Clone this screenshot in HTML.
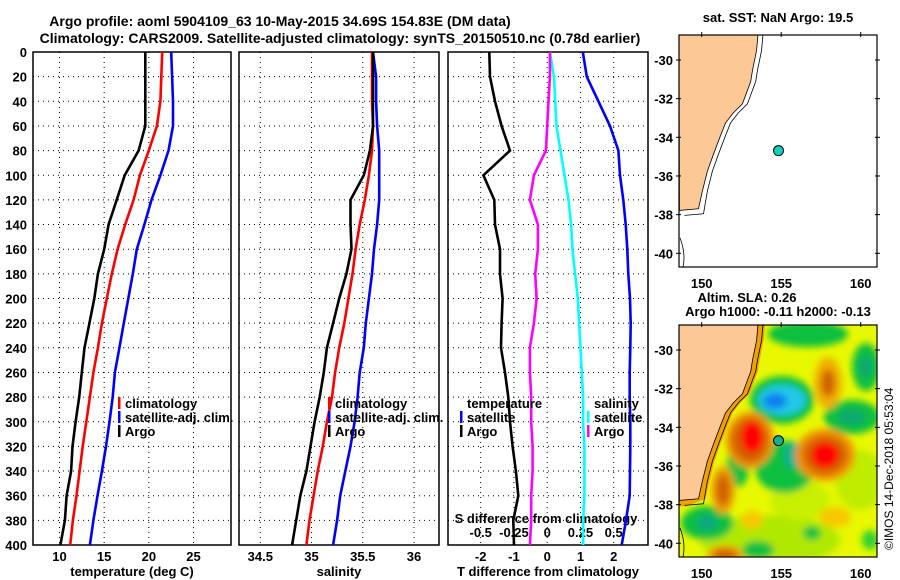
<!DOCTYPE html>
<html><head><meta charset="utf-8"><style>
body{margin:0;background:#fff}
svg{display:block;font-family:"Liberation Sans",sans-serif;font-weight:bold}
</style></head><body>
<svg id="fig" width="900" height="580" viewBox="0 0 900 580" xmlns="http://www.w3.org/2000/svg">
<text x="280" y="26" font-size="14" text-anchor="middle">Argo profile: aoml 5904109_63 10-May-2015 34.69S 154.83E (DM data)</text>
<text x="340" y="43" font-size="14" text-anchor="middle">Climatology: CARS2009. Satellite-adjusted climatology: synTS_20150510.nc (0.78d earlier)</text>
<g id="p1"></g>
<g id="p2"></g>
<g id="p3"></g>
<g id="m1"></g>
<g id="m2"></g>
<text x="778" y="22" font-size="13" text-anchor="middle">sat. SST: NaN Argo: 19.5</text>
<text x="747" y="302" font-size="13" text-anchor="middle">Altim. SLA: 0.26</text>
<text x="778" y="316" font-size="13" text-anchor="middle">Argo h1000: -0.11 h2000: -0.13</text>
<text transform="translate(893,550) rotate(-90)" font-size="12" font-weight="normal">©IMOS 14-Dec-2018 05:53:04</text>
</svg>
<script>
const depths=[0,20,40,60,80,100,120,140,160,180,200,220,240,260,280,300,320,340,360,380,400];
const depthTicks=[0,20,40,60,80,100,120,140,160,180,200,220,240,260,280,300,320,340,360,380,400];
const tempArgo=[19.6,19.6,19.6,19.6,18.85,17.3,16.4,15.5,15.0,14.3,13.9,13.35,12.8,12.5,12.2,11.8,11.45,11.3,10.8,10.6,10.1];
const tempClim=[21.5,21.4,21.3,20.9,20.0,19.0,18.3,17.35,16.5,15.85,15.3,14.75,14.3,13.8,13.4,13.0,12.6,12.25,11.9,11.5,11.2];
const tempSat=[22.5,22.6,22.7,22.7,22.2,21.3,20.3,19.5,18.65,18.2,17.7,17.2,16.7,16.2,15.95,15.6,15.2,14.75,14.25,13.8,13.4];
const salArgo=[35.6,35.6,35.6,35.6,35.57,35.51,35.38,35.38,35.39,35.34,35.27,35.21,35.15,35.12,35.08,35.03,34.99,34.95,34.89,34.85,34.81];
const salClim=[35.59,35.59,35.59,35.6,35.59,35.56,35.52,35.47,35.43,35.40,35.36,35.32,35.27,35.23,35.2,35.15,35.11,35.06,35.02,34.98,34.95];
const salSat=[35.6,35.63,35.63,35.64,35.66,35.66,35.66,35.64,35.61,35.59,35.56,35.53,35.51,35.47,35.45,35.42,35.38,35.33,35.28,35.25,35.21];
const tDiffArgo=[-1.74,-1.72,-1.57,-1.37,-1.12,-1.92,-1.59,-1.57,-1.42,-1.42,-1.34,-1.37,-1.39,-1.27,-1.17,-1.12,-1.04,-0.94,-0.87,-1.02,-1.0];
const tDiffSat=[1.07,1.19,1.54,1.89,2.14,2.19,2.29,2.36,2.41,2.44,2.49,2.51,2.5,2.48,2.48,2.5,2.5,2.49,2.48,2.37,2.24];
const sDiffArgo=[0.02,0.02,0.01,0.0,-0.01,-0.1,-0.13,-0.07,-0.07,-0.09,-0.08,-0.1,-0.13,-0.13,-0.12,-0.12,-0.11,-0.11,-0.12,-0.12,-0.13];
const sDiffSat=[0.02,0.05,0.06,0.07,0.1,0.13,0.16,0.18,0.19,0.21,0.23,0.24,0.25,0.26,0.27,0.27,0.28,0.28,0.28,0.27,0.27];
const tempTicks=[10,15,20,25];
const salTicks=[34.5,35,35.5,36];
const tDiffTicks=[-2,-1,0,1,2];
const sDiffTicks=[-0.5,-0.25,0,0.25,0.5];
const lonTicks=[150,155,160];
const latTicks=[-30,-32,-34,-36,-38,-40];
const argoLon=154.83, argoLat=-34.69;
const coastLon=[153.55,153.45,153.2,153.08,152.56,152.0,151.5,151.2,150.75,150.36,150.04,149.8,148.6];
const coastLat=[-28.6,-29.5,-30.5,-31.11,-32.27,-32.72,-33.25,-33.87,-34.85,-35.75,-36.8,-37.7,-37.78];

const NS='http://www.w3.org/2000/svg';
function mk(parent,tag,attrs,txt){const e=document.createElementNS(NS,tag);for(const k in attrs)e.setAttribute(k,attrs[k]);if(txt!==undefined)e.textContent=txt;parent.appendChild(e);return e;}
const Y0=52,Y1=545;
const yD=d=>Y0+(d/400)*(Y1-Y0);
function lin(d0,d1,r0,r1){return v=>r0+(v-d0)/(d1-d0)*(r1-r0);}

function panel(g,x0,x1,xs,ticks,fmt,label,leftLabels){
  for(const t of ticks){const x=xs(t);
    const l=mk(g,'line',{x1:x,x2:x,y1:Y0,y2:Y1,stroke:'#000','stroke-width':1,'stroke-dasharray':'1,4'});
    
    
    const tx=mk(g,'text',{x:x,y:Y1+16,'font-size':13,'text-anchor':'middle'},fmt(t));
    
    }
  for(const d of depthTicks){const y=yD(d);
    if(d>0&&d<400){const l=mk(g,'line',{x1:x0,x2:x1,y1:y,y2:y,stroke:'#000','stroke-width':1,'stroke-dasharray':'1,4'});
      
      }
    if(leftLabels){const tx=mk(g,'text',{x:27,y:y+5,'font-size':13,'text-anchor':'end'},String(d));
      
      }}
  const r=mk(g,'rect',{x:x0,y:Y0,width:x1-x0,height:Y1-Y0,fill:'none',stroke:'#000','stroke-width':1.5});
  
  
  if(label){const tx=mk(g,'text',{x:(x0+x1)/2,y:576,'font-size':13,'text-anchor':'middle'},label);
    
    }
}
function series(g,vals,xs,color,name,w){
  const pts=vals.map((v,i)=>xs(v).toFixed(1)+','+yD(depths[i]).toFixed(1)).join(' ');
  const p=mk(g,'polyline',{points:pts,fill:'none',stroke:color,'stroke-width':w||2.6});
  
  
}
function legend(g,x,y,items,header){
  let yy=y;
  if(header){const t=mk(g,'text',{x:x+7,y:yy,'font-size':13},header);
    
    yy+=14;}
  for(const [c,lab] of items){
    const r=mk(g,'rect',{x:x,y:yy-11,width:2.5,height:12,fill:c});
    
    
    const t=mk(g,'text',{x:x+7,y:yy,'font-size':13},lab);
    
    
    yy+=14;}
}
// Panel 1
const p1=document.getElementById('p1');
const xT=lin(10,25,59.5,193.5);
panel(p1,33,231,xT,tempTicks,String,'temperature (deg C)',true);
series(p1,tempClim,xT,'#f00','temp-climatology-line');
series(p1,tempSat,xT,'#00f','temp-satellite-line');
series(p1,tempArgo,xT,'#000','temp-argo-line');
legend(p1,118,408,[['#f00','climatology'],['#00f','satellite-adj. clim.'],['#000','Argo']]);
// Panel 2
const p2=document.getElementById('p2');
const xS=lin(34.5,36,260.3,414);
panel(p2,239,439,xS,salTicks,String,'salinity',false);
series(p2,salClim,xS,'#f00','sal-climatology-line');
series(p2,salSat,xS,'#00f','sal-satellite-line');
series(p2,salArgo,xS,'#000','sal-argo-line');
legend(p2,328,408,[['#f00','climatology'],['#00f','satellite-adj. clim.'],['#000','Argo']]);
// Panel 3
const p3=document.getElementById('p3');
const xTD=lin(-2,2,480.7,613.7);
const xSD=lin(-0.5,0.5,480.7,613.7);
panel(p3,448,648,xTD,tDiffTicks,String,'T difference from climatology',false);
for(const t of sDiffTicks){const tx=mk(p3,'text',{x:xSD(t),y:537,'font-size':13,'text-anchor':'middle'},String(t));
  
  }
const sdt=mk(p3,'text',{x:546,y:523,'font-size':13,'text-anchor':'middle'},'S difference from climatology');


series(p3,sDiffSat,xSD,'#0ff','sdiff-satellite-line');
series(p3,sDiffArgo,xSD,'#f0f','sdiff-argo-line');
series(p3,tDiffSat,xTD,'#00f','tdiff-satellite-line');
series(p3,tDiffArgo,xTD,'#000','tdiff-argo-line');
legend(p3,460,408,[['#00f','satellite'],['#000','Argo']],'temperature');
legend(p3,587,408,[['#0ff','satellite'],['#f0f','Argo']],'salinity');

// Maps
function map(g,top,bottom,latTop,withField){
  const xL=lin(150,160,701.7,860.7);
  const yL=lin(-30,-40,latTop,latTop+193.3);
  const cid='clip'+top;
  const defs=mk(g,'defs',{});
  const cp=mk(defs,'clipPath',{id:cid});mk(cp,'rect',{x:679,y:top,width:198,height:bottom-top});
  if(withField){
    const f=mk(defs,'filter',{id:'blur',x:'-50%',y:'-50%',width:'200%',height:'200%'});mk(f,'feGaussianBlur',{stdDeviation:3.5});
  }
  const inner=mk(g,'g',{'clip-path':'url(#'+cid+')'});
  mk(inner,'rect',{x:679,y:top,width:198,height:bottom-top,fill:withField?'#e8f800':'#fff'});
  if(withField){
    const fg=mk(inner,'g',{filter:'url(#blur)'});
    
    
    const blobs=[
      [770,540,70,25,'#b0e800'],[860,480,25,30,'#c0ec00'],[800,500,30,20,'#c8f000'],
      [808,334,40,13,'#10c040'],[866,367,14,24,'#10c040'],[866,367,7,11,'#10a870'],
      [852,417,28,17,'#10c040'],[852,417,14,8,'#10a870'],
      [782,400,32,24,'#10c040'],[782,400,24,15,'#20c8e8'],[775,401,12,8,'#1080f0'],
      [785,467,30,26,'#10c040'],[792,455,8,14,'#10b090'],[738,465,11,22,'#10c040'],
      [707,523,26,17,'#10c040'],[707,523,10,8,'#10a880'],[758,550,16,9,'#10c040'],[812,533,9,7,'#10c040'],[870,540,8,10,'#30d030'],
      [828,383,14,26,'#f0b000'],[828,383,7,14,'#d06000'],
      [723,490,12,24,'#f0a000'],[723,490,7,16,'#d06000'],
      [725,555,18,10,'#f0a000'],[725,555,12,6,'#d06000'],
      [752,520,11,9,'#f8c800'],[835,517,16,10,'#f8c800'],
      [750,440,24,28,'#f09000'],[750,440,18,22,'#d06000'],[752,437,11,16,'#ff0000'],
      [825,455,30,26,'#f09000'],[825,455,22,19,'#d06000'],[825,455,14,13,'#ff0000']];
    for(const b of blobs){const e=mk(fg,'ellipse',{cx:b[0],cy:b[1],rx:b[2],ry:b[3],fill:b[4]});
      
      }
  }
  let d='M679,'+top+' ';
  coastLon.forEach((lo,i)=>{d+='L'+xL(lo).toFixed(1)+','+yL(coastLat[i]).toFixed(1)+' ';});
  d+='Z';
  if(withField){
    let ob='M'+(xL(coastLon[0])+8)+','+top+' ';
    coastLon.forEach((lo,i)=>{ob+='L'+(xL(lo)+7).toFixed(1)+','+(yL(coastLat[i])+(i==coastLon.length-1?6:0)).toFixed(1)+' ';});
    ob+='L679,'+(yL(coastLat[coastLat.length-1])+6)+' L679,'+top+' Z';
    mk(inner,'path',{d:ob,fill:'#f0a000'});
  }
  const land=mk(inner,'path',{d:d,fill:'#fcc996',stroke:'#000','stroke-width':0.8});
  
  
  let c2='M'+(xL(coastLon[0])+4)+','+top+' ';
  coastLon.forEach((lo,i)=>{c2+='L'+(xL(lo)+5).toFixed(1)+','+(yL(coastLat[i])+(i>=coastLon.length-2?5:0)).toFixed(1)+' ';});
  const iso=mk(inner,'path',{d:c2,fill:'none',stroke:'#000','stroke-width':0.8});
  
  
  mk(inner,'path',{d:'M680,'+(yL(-39.2))+' Q686,'+(yL(-40))+' 683,'+bottom,fill:'none',stroke:'#000','stroke-width':0.8});
  const pt=mk(g,'circle',{cx:xL(argoLon),cy:yL(argoLat),r:5,fill:withField?'#10b090':'#10d0c0',stroke:'#000','stroke-width':1});
  
  
  const fr=mk(g,'rect',{x:679,y:top,width:198,height:bottom-top,fill:'none',stroke:'#000','stroke-width':1.2});
  
  
  for(const lo of lonTicks){const x=xL(lo);
    mk(g,'line',{x1:x,x2:x,y1:top-3,y2:top+2,stroke:'#000'});
    const t=mk(g,'text',{x:x,y:bottom+21,'font-size':13,'text-anchor':'middle'},String(lo));
    
    }
  for(const la of latTicks){const y=yL(la);
    mk(g,'line',{x1:676,x2:681,y1:y,y2:y,stroke:'#000'});
    mk(g,'line',{x1:875,x2:880,y1:y,y2:y,stroke:'#000'});
    const t=mk(g,'text',{x:673,y:y+5,'font-size':13,'text-anchor':'end'},String(la));
    
    }
}
map(document.getElementById('m1'),35,267,60,false);
map(document.getElementById('m2'),325,557,350,true);
</script>
</body></html>
